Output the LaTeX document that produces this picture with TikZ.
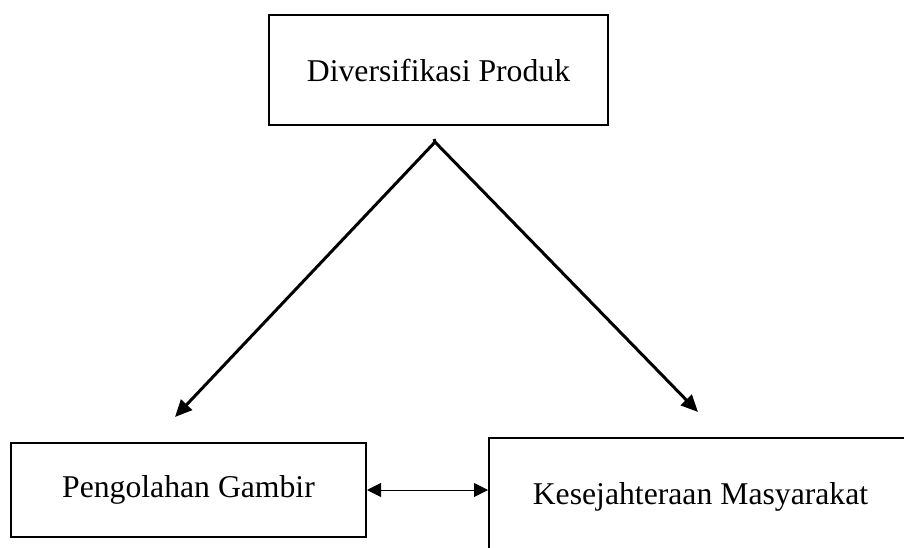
\documentclass[tikz,border=0pt]{standalone}
\usepackage{fontspec}
\setmainfont{Liberation Serif}
\usetikzlibrary{arrows.meta}
\begin{document}
\begin{tikzpicture}[x=1pt,y=1pt,
  boxnode/.style={draw, line width=2pt, inner sep=0pt, font=\fontsize{31.7}{38}\selectfont},
  mainarrow/.style={line width=3pt, -{Triangle[length=17pt,width=15pt]}},
  linkarrow/.style={line width=1pt, {Triangle[length=14pt,width=14pt]}-{Triangle[length=14pt,width=14pt]}}]
\useasboundingbox (0,0) rectangle (904,547);
\clip (0,0) rectangle (904,547);
\node[boxnode, minimum width=339pt, minimum height=110pt] (top) at (438.5,477) {Diversifikasi Produk};
\node[boxnode, minimum width=355pt, minimum height=94pt] (left) at (188.5,57) {Pengolahan Gambir};
\node[boxnode, minimum width=423pt, minimum height=118pt] (right) at (700.5,50) {Kesejahteraan Masyarakat};
\coordinate (apex) at (435,405);
\coordinate (ltip) at (175,130);
\coordinate (rtip) at (698,135);
\draw[line width=3pt] (apex) -- ++(-1,3);
\draw[mainarrow] (apex) -- (ltip);
\draw[mainarrow] (apex) -- (rtip);
\draw[linkarrow] (left.east) -- (left.east -| right.west);
\end{tikzpicture}
\end{document}
